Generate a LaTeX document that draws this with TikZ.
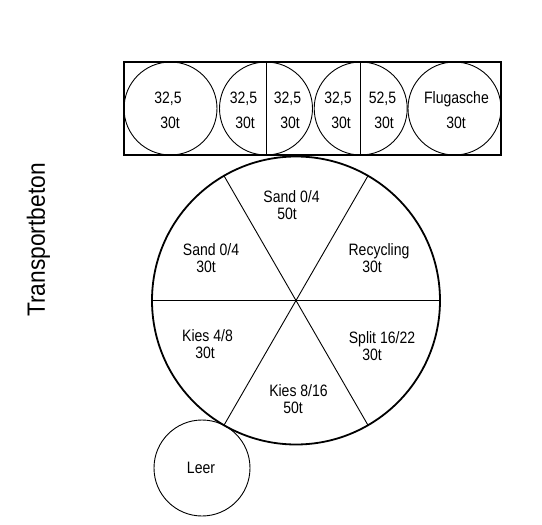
\documentclass[tikz,border=0pt]{standalone}
\usepackage{fontspec}
\setmainfont{Liberation Sans}[FakeStretch=0.85]
\newfontfamily\bigfont{Liberation Sans}[FakeStretch=0.91]
\begin{document}
\begin{tikzpicture}[x=1pt,y=-1pt,
  thickline/.style={line width=1.8pt},
  thinline/.style={line width=0.9pt},
  silo/.style={circle,draw,thinline,minimum size=93pt,inner sep=0pt},
  lbl/.style={inner sep=0pt,text height=11.8pt,text depth=0pt,font=\fontsize{16.5}{18}\selectfont}]
\useasboundingbox (0,0) rectangle (542,525);
% top rectangle
\node[draw,thickline,minimum width=377pt,minimum height=93.5pt,inner sep=0pt] (box) at (312.5,108.5) {};
\node[silo] (c1) at (170.5,108.5) {};
\node[silo] (c2) at (266,108.5) {};
\node[silo] (c3) at (360.7,108.5) {};
\node[silo] (c4) at (454.5,108.5) {};
\coordinate (v1t) at (266,61.7);
\coordinate (v1b) at (266,155.3);
\coordinate (v2t) at (360.7,61.7);
\coordinate (v2b) at (360.7,155.3);
\draw[thinline] (v1t) -- (v1b);
\draw[thinline] (v2t) -- (v2b);
\node[lbl] (t1a) at (168,98) {32,5};
\node[lbl] (t1b) at (170,122.5) {30t};
\node[lbl] (t2a) at (243.5,98) {32,5};
\node[lbl] (t2b) at (245,122.5) {30t};
\node[lbl] (t3a) at (287.5,98) {32,5};
\node[lbl] (t3b) at (290,122.5) {30t};
\node[lbl] (t4a) at (338,98) {32,5};
\node[lbl] (t4b) at (341,122.5) {30t};
\node[lbl] (t5a) at (382.5,98) {52,5};
\node[lbl] (t5b) at (384,122.5) {30t};
\node[lbl] (t6a) at (456.5,98) {Flugasche};
\node[lbl] (t6b) at (456,122.5) {30t};
% main circle
\node[circle,draw,thickline,minimum size=288pt,inner sep=0pt] (m) at (296,300.5) {};
\draw[thinline] (m.0) -- (m.180);
\draw[thinline] (m.60) -- (m.240);
\draw[thinline] (m.120) -- (m.300);
\node[lbl] (s1a) at (291.5,196.5) {Sand 0/4};
\node[lbl] (s1b) at (287,213.5) {50t};
\node[lbl] (s2a) at (211,250) {Sand 0/4};
\node[lbl] (s2b) at (206,266.5) {30t};
\node[lbl] (s3a) at (379,250) {Recycling};
\node[lbl] (s3b) at (372,266.5) {30t};
\node[lbl] (s4a) at (207.5,335.5) {Kies 4/8};
\node[lbl] (s4b) at (205,352.5) {30t};
\node[lbl] (s5a) at (382,337.5) {Split 16/22};
\node[lbl] (s5b) at (372,355) {30t};
\node[lbl] (s6a) at (298.5,391) {Kies 8/16};
\node[lbl] (s6b) at (293,407.5) {50t};
% empty silo
\node[circle,draw,thinline,minimum size=96pt,inner sep=0pt] (leer) at (202,468) {};
\node[lbl] (leert) at (201,468) {Leer};
% side label
\node[rotate=90,anchor=base,inner sep=0pt,font=\bigfont\fontsize{25}{28}\selectfont] (tb) at (45,240) {Transportbeton};
\end{tikzpicture}
\end{document}
